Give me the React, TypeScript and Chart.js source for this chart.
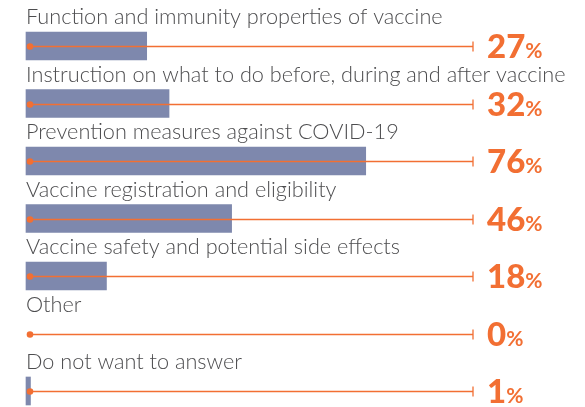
import React, { useEffect, useRef } from "react";
import { Chart, registerables } from "chart.js";

Chart.register(...registerables);

const categories = [
  "Function and immunity properties of vaccine",
  "Instruction on what to do before, during and after vaccine",
  "Prevention measures against COVID-19",
  "Vaccine registration and eligibility",
  "Vaccine safety and potential side effects",
  "Other",
  "Do not want to answer",
];
const values = [27, 32, 76, 46, 18, 0, 1];
const trackMax = 100;

const BAR_COLOR = "#7e88ad";
const ORANGE = "#f26f33";
const TEXT_COLOR = "#4d4d4f";

const overlayPlugin = {
  id: "overlay",
  beforeDatasetsDraw(chart: any) {
    const { ctx, scales } = chart;
    const x = scales.x;
    const y = scales.y;
    ctx.save();
    categories.forEach((label, i) => {
      const cy = y.getPixelForValue(i);
      ctx.font = "300 21.7px Lato, 'DejaVu Sans', sans-serif";
      ctx.fillStyle = TEXT_COLOR;
      ctx.textBaseline = "alphabetic";
      ctx.textAlign = "left";
      ctx.fillText(label, x.getPixelForValue(0), cy - 22);
    });
    ctx.restore();
  },
  afterDatasetsDraw(chart: any) {
    const { ctx, scales } = chart;
    const x = scales.x;
    const y = scales.y;
    ctx.save();
    values.forEach((v, i) => {
      const cy = Math.round(y.getPixelForValue(i)) + 0.5;
      const x0 = x.getPixelForValue(0) + 4;
      const x1 = x.getPixelForValue(trackMax);
      ctx.strokeStyle = ORANGE;
      ctx.lineWidth = 1.3;
      ctx.beginPath();
      ctx.moveTo(x0, cy);
      ctx.lineTo(x1, cy);
      ctx.moveTo(x1, cy - 5);
      ctx.lineTo(x1, cy + 5);
      ctx.stroke();
      ctx.fillStyle = ORANGE;
      ctx.beginPath();
      ctx.arc(x0, cy, 3.3, 0, Math.PI * 2);
      ctx.fill();
      const num = String(v);
      const lx = x1 + 14;
      const base = cy + 11.5;
      ctx.font = "900 33px Lato, 'DejaVu Sans', sans-serif";
      ctx.textAlign = "left";
      ctx.textBaseline = "alphabetic";
      ctx.fillText(num, lx, base);
      const w = ctx.measureText(num).width;
      ctx.font = "bold 21px Lato, 'DejaVu Sans', sans-serif";
      ctx.fillText("%", lx + w, base);
    });
    ctx.restore();
  },
};

export default function App() {
  const ref = useRef<HTMLCanvasElement | null>(null);
  useEffect(() => {
    if (!ref.current) return;
    const chart = new Chart(ref.current, {
      type: "bar",
      data: {
        labels: categories,
        datasets: [
          {
            data: values,
            backgroundColor: (c: any) => (c.raw === 0 ? "rgba(0,0,0,0)" : BAR_COLOR),
            barThickness: 28,
            borderWidth: 0,
            clip: false as any,
          },
        ],
      },
      options: {
        indexAxis: "y",
        animation: false,
        responsive: false,
        layout: { padding: { left: 26, right: 112, top: 46, bottom: 16 } },
        plugins: { legend: { display: false }, tooltip: { enabled: false } },
        scales: {
          x: { display: false, min: 0, max: trackMax },
          y: { display: false, offset: false },
        },
      },
      plugins: [overlayPlugin],
    });
    return () => chart.destroy();
  }, []);
  return (
    <div style={{ position: "absolute", left: 0, top: 0, width: 585, height: 407, background: "#fff" }}>
      <canvas ref={ref} width={585} height={407} />
    </div>
  );
}
